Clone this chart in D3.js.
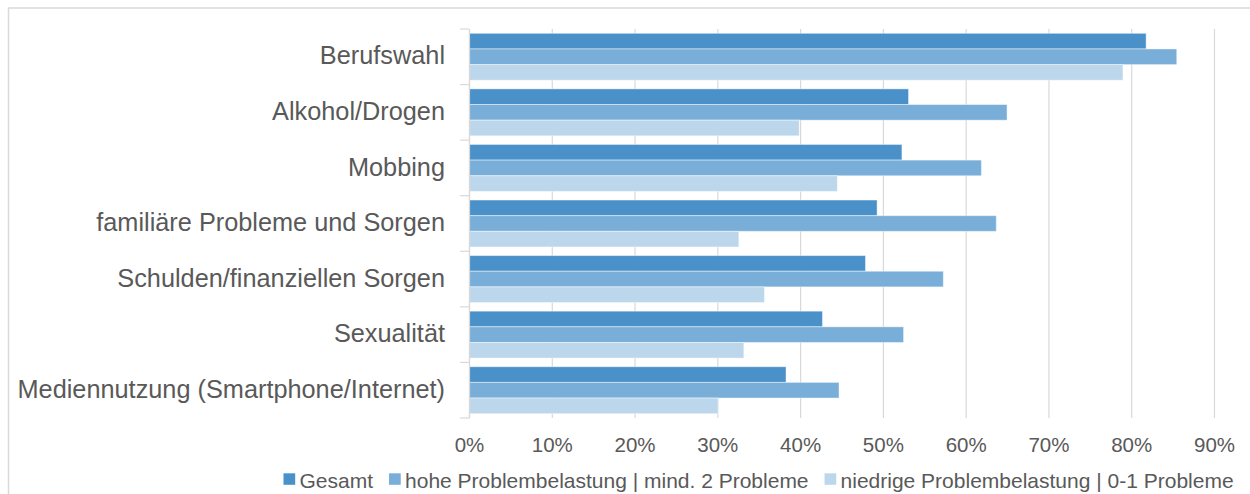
<!DOCTYPE html>
<html>
<head>
<meta charset="utf-8">
<script src="https://cdn.jsdelivr.net/npm/d3@7"></script>
<style>
  html, body { margin: 0; padding: 0; background: #fff; }
  svg { display: block; font-family: "Liberation Sans", Arial, sans-serif; }
</style>
</head>
<body>
<svg id="chart" width="1250" height="494"></svg>
<script>
const categories = [
  "Berufswahl",
  "Alkohol/Drogen",
  "Mobbing",
  "familiäre Probleme und Sorgen",
  "Schulden/finanziellen Sorgen",
  "Sexualität",
  "Mediennutzung (Smartphone/Internet)"
];
const seriesNames = [
  "Gesamt",
  "hohe Problembelastung | mind. 2 Probleme",
  "niedrige Problembelastung | 0-1 Probleme"
];
const gesamt   = [0.818, 0.531, 0.523, 0.493, 0.479, 0.427, 0.383];
const hohe     = [0.855, 0.650, 0.619, 0.637, 0.573, 0.525, 0.447];
const niedrige = [0.790, 0.399, 0.445, 0.326, 0.357, 0.332, 0.301];
const tickValues = [0, 0.1, 0.2, 0.3, 0.4, 0.5, 0.6, 0.7, 0.8, 0.9];
const colors = ["#4a90c9", "#78aed8", "#bcd7eb"];

const seriesValues = [gesamt, hohe, niedrige];
const svg = d3.select("#chart");

// outer chart border
svg.append("rect")
  .attr("x", 8.5).attr("y", 8).attr("width", 1300).attr("height", 600)
  .attr("fill", "none").attr("stroke", "#d9d9d9").attr("stroke-width", 1.5);

const x = d3.scaleLinear().domain([0, 0.9]).range([469, 1214]);
const pad = 0.155;
const y = d3.scaleBand().domain(categories).range([29, 418])
  .paddingInner(pad).paddingOuter(pad / 2);
const yInner = d3.scaleBand().domain(seriesNames).range([0, y.bandwidth()]);

// gridlines + tick labels
const xAxis = d3.axisBottom(x).tickValues(tickValues)
  .tickFormat(d3.format(".0%")).tickSize(-(418 - 29)).tickPadding(14);
const gx = svg.append("g").attr("transform", "translate(0,418)").call(xAxis);
gx.select(".domain").remove();
gx.selectAll(".tick line").attr("stroke", "#d9d9d9").attr("stroke-width", 1.2);
gx.selectAll(".tick text").attr("fill", "#595959")
  .attr("font-size", "20.5px").attr("font-family", "Liberation Sans, Arial, sans-serif")
  .attr("dy", "0").attr("y", 34);

// bars
const rows = [];
categories.forEach((c, i) => {
  seriesNames.forEach((s, j) => rows.push({ c, s, j, v: seriesValues[j][i] }));
});
svg.append("g").selectAll("rect").data(rows).join("rect")
  .attr("x", x(0))
  .attr("y", d => y(d.c) + yInner(d.s))
  .attr("width", d => x(d.v) - x(0))
  .attr("height", yInner.bandwidth())
  .attr("fill", d => colors[d.j])
  .attr("stroke", "#ffffff").attr("stroke-opacity", 0.45).attr("stroke-width", 1);

// left category axis
const yAxis = d3.axisLeft(y).tickSize(0).tickPadding(24);
const gy = svg.append("g").attr("transform", `translate(${x(0)},0)`).call(yAxis);
gy.select(".domain").attr("stroke", "#d9d9d9").attr("stroke-width", 1.2);
gy.selectAll(".tick text").attr("fill", "#595959")
  .attr("font-size", "25.3px").attr("font-family", "Liberation Sans, Arial, sans-serif")
  .attr("dy", "0.3em");
// boundary ticks between categories
const bounds = categories.map(c => y(c) - y.step() * pad / 2).concat([418]);
svg.append("g").selectAll("line").data(bounds).join("line")
  .attr("x1", x(0) - 9).attr("x2", x(0))
  .attr("y1", d => d).attr("y2", d => d)
  .attr("stroke", "#d9d9d9").attr("stroke-width", 1.2);

// legend
const lg = svg.append("g");
let cx = 283.5;
seriesNames.forEach((s, j) => {
  lg.append("rect").attr("x", cx).attr("y", 473.3).attr("width", 11.7).attr("height", 11.5)
    .attr("fill", colors[j]);
  const t = lg.append("text").attr("x", cx + 16).attr("y", 487.5)
    .attr("fill", "#595959").attr("font-size", "21px").text(s);
  const w = t.node().getComputedTextLength();
  cx = cx + 16 + w + 16;
});
</script>
</body>
</html>
